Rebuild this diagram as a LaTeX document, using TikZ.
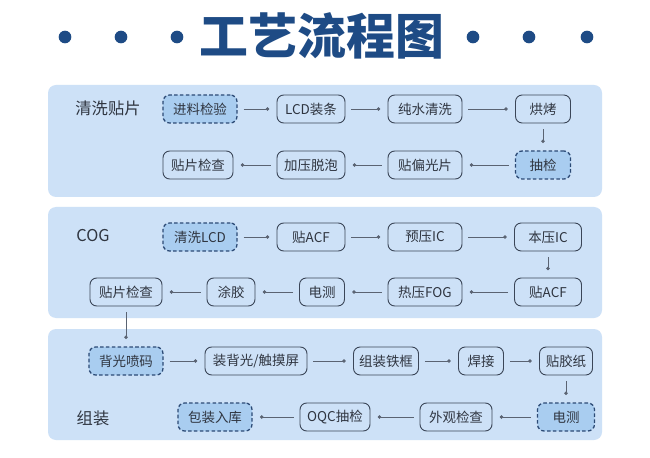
\documentclass[tikz,border=0pt]{standalone}
\usepackage{fontspec}
\setmainfont{Noto Sans CJK SC}
\usepackage{xcolor}
\usetikzlibrary{arrows.meta}

\definecolor{panelblue}{HTML}{CDE1F7}
\definecolor{checkblue}{HTML}{A9CDF0}
\definecolor{checkline}{HTML}{2C4A75}
\definecolor{boxline}{HTML}{3B4658}
\definecolor{linkgray}{HTML}{5A6372}
\definecolor{titleblue}{HTML}{1E4B85}
\definecolor{textgray}{HTML}{2F3540}

\begin{document}
\begin{tikzpicture}[
    x=0.03cm, y=-0.03cm,
    panel/.style={fill=panelblue, rounded corners=0.24cm},
    box/.style={rectangle, draw=boxline, line width=0.8pt, rounded corners=0.2cm, minimum height=0.84cm, inner sep=0pt, text=textgray, font=\fontsize{11.5}{13}\selectfont},
    check/.style={box, fill=checkblue, draw=checkline, line width=1.1pt, dash pattern=on 3pt off 2pt},
    stage/.style={text=textgray, font=\fontsize{13.9}{16}\selectfont},
    link/.style={-{Circle[length=3pt]}, draw=linkgray, line width=0.6pt, shorten <=0.18cm, shorten >=0.22cm},
  ]
    \fill[white] (0,0) rectangle (650,458);

    % Title
    \node[text=titleblue, font=\fontsize{41.7}{44}\selectfont\bfseries] (title) at (322,36) {工艺流程图};
    \foreach \x in {65,121,177,473,529,587}
      \fill[titleblue] (\x,37) circle (0.19cm);

    % Panels
    \fill[panel] (48,85) rectangle (602,197);
    \fill[panel] (48,207) rectangle (602,318);
    \fill[panel] (48,329) rectangle (602,440);

    % Nodes: 清洗贴片
    \node[stage] (s1) at (108,108) {清洗贴片};
    \node[check, minimum width=2.22cm] (incoming) at (200,109) {进料检验};
    \node[box, minimum width=2.04cm] (lcdstrip) at (311,109) {LCD装条};
    \node[box, minimum width=2.22cm] (purewash) at (425,109) {纯水清洗};
    \node[box, minimum width=1.65cm] (bake) at (543,109) {烘烤};
    \node[check, minimum width=1.65cm] (sample1) at (543,165) {抽检};
    \node[box, minimum width=2.22cm] (polarizer) at (425,165) {贴偏光片};
    \node[box, minimum width=2.04cm] (deaerate) at (311,165) {加压脱泡};
    \node[box, minimum width=2.10cm] (inspect1) at (198,165) {贴片检查};

    % Nodes: COG
    \node[stage] (s2) at (93,236) {COG};
    \node[check, minimum width=2.22cm] (washlcd) at (200,237) {清洗LCD};
    \node[box, minimum width=2.04cm] (acfa) at (311,237) {贴ACF};
    \node[box, minimum width=2.22cm] (prebond) at (425,237) {预压IC};
    \node[box, minimum width=2.01cm] (mainbond) at (548,237) {本压IC};
    \node[box, minimum width=2.01cm] (acfb) at (548,292) {贴ACF};
    \node[box, minimum width=2.22cm] (fog) at (425,292) {热压FOG};
    \node[box, minimum width=1.35cm] (etest1) at (322,292) {电测};
    \node[box, minimum width=1.44cm] (glue) at (231,292) {涂胶};
    \node[box, minimum width=2.16cm] (inspect2) at (126,292) {贴片检查};

    % Nodes: 组装
    \node[stage] (s3) at (93,418) {组装};
    \node[check, minimum width=2.22cm] (coding) at (126,361) {背光喷码};
    \node[box, minimum width=3.06cm] (backlight) at (256,361) {装背光/触摸屏};
    \node[box, minimum width=1.95cm] (frame) at (386,361) {组装铁框};
    \node[box, minimum width=1.35cm] (weld) at (481,361) {焊接};
    \node[box, minimum width=1.59cm] (tape) at (566,361) {贴胶纸};
    \node[check, minimum width=1.71cm] (etest2) at (566,417) {电测};
    \node[box, minimum width=2.16cm] (visual) at (456,417) {外观检查};
    \node[box, minimum width=2.10cm] (oqc) at (335,417) {OQC抽检};
    \node[check, minimum width=2.22cm] (pack) at (215,417) {包装入库};

    % Arrows
    \draw[link] (incoming) -- (lcdstrip);
    \draw[link] (lcdstrip) -- (purewash);
    \draw[link] (purewash) -- (bake);
    \draw[link] (bake) -- (sample1);
    \draw[link] (sample1) -- (polarizer);
    \draw[link] (polarizer) -- (deaerate);
    \draw[link] (deaerate) -- (inspect1);

    \draw[link] (washlcd) -- (acfa);
    \draw[link] (acfa) -- (prebond);
    \draw[link] (prebond) -- (mainbond);
    \draw[link] (mainbond) -- (acfb);
    \draw[link] (acfb) -- (fog);
    \draw[link] (fog) -- (etest1);
    \draw[link] (etest1) -- (glue);
    \draw[link] (glue) -- (inspect2);
    \draw[link] (inspect2) -- (coding);

    \draw[link] (coding) -- (backlight);
    \draw[link] (backlight) -- (frame);
    \draw[link] (frame) -- (weld);
    \draw[link] (weld) -- (tape);
    \draw[link] (tape) -- (etest2);
    \draw[link] (etest2) -- (visual);
    \draw[link] (visual) -- (oqc);
    \draw[link] (oqc) -- (pack);

  \end{tikzpicture}
\end{document}
